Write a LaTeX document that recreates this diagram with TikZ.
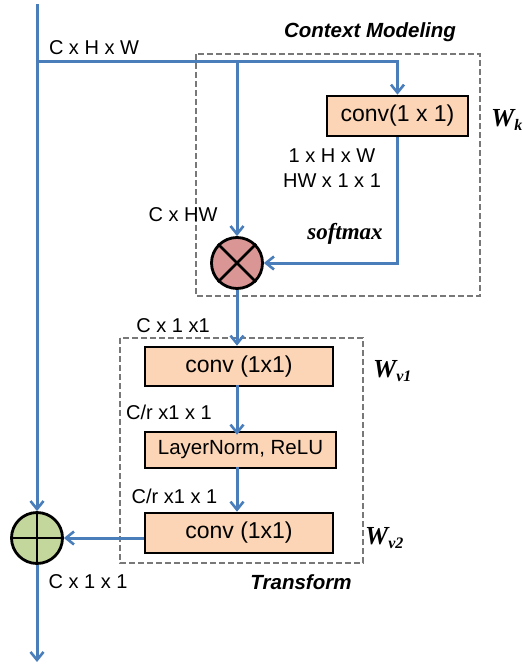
\documentclass[tikz,border=0pt]{standalone}
\usepackage{fontspec}
\setmainfont{Liberation Sans}
\newfontfamily\tnr{Liberation Serif}
\usetikzlibrary{arrows.meta}
\definecolor{lineblue}{RGB}{74,126,187}
\definecolor{peach}{RGB}{251,213,181}
\definecolor{pinkred}{RGB}{217,150,148}
\definecolor{lightgreen}{RGB}{195,214,155}
\definecolor{dashgray}{RGB}{120,120,120}
\newcommand{\Wlab}[1]{{\tnr\bfseries\itshape\fontsize{26}{28}\selectfont W\raisebox{-0.35ex}{\fontsize{16}{18}\selectfont #1}}}
\tikzset{
  conn/.style={draw=lineblue, line width=3pt, -{Straight Barb[length=8pt,width=13pt,line width=2.6pt]}},
  opbox/.style={draw=black, line width=2.6pt, fill=peach, inner sep=0pt, font=\fontsize{23}{26}\selectfont},
  dim/.style={inner sep=0pt, font=\fontsize{20}{23}\selectfont},
  grouptitle/.style={inner sep=0pt, font=\fontsize{20.5}{23}\selectfont\bfseries\itshape},
  groupbox/.style={draw=dashgray, line width=2.8pt, dash pattern=on 6pt off 3pt},
  opcircle/.style={circle, draw=black, line width=2.8pt, minimum size=51pt, inner sep=0pt}
}
\begin{document}
\begin{tikzpicture}[x=1pt,y=-1pt]
\useasboundingbox (0,0) rectangle (522,666);
% group boxes
\draw[groupbox] (196,54) rectangle (480,296);
\draw[groupbox] (120,338) rectangle (363,563);
\node[grouptitle] (ctxtitle) at (370,32) {Context Modeling};
\node[grouptitle] (trtitle) at (301,582) {Transform};
% nodes
\node[opbox, minimum width=141pt, minimum height=40pt] (convk) at (397.5,116) {conv(1 x 1)};
\node[opcircle, fill=pinkred] (mul) at (237,263) {};
\draw[line width=2.8pt] (mul.45) -- (mul.225) (mul.135) -- (mul.315);
\node[opbox, minimum width=188pt, minimum height=39pt] (conv1) at (239,366.5) {conv (1x1)};
\node[opbox, minimum width=191pt, minimum height=36pt, font=\fontsize{20.5}{23}\selectfont] (ln) at (240.5,450) {LayerNorm, ReLU};
\node[opbox, minimum width=188pt, minimum height=40pt] (conv2) at (239,533) {conv (1x1)};
\node[opcircle, fill=lightgreen] (add) at (37,538) {};
\draw[line width=2.8pt] (add.north) -- (add.south) (add.east) -- (add.west);
% coordinates
\coordinate (top) at (37,4);
\coordinate (split) at (37,62);
\coordinate (branch) at (237,62);
\coordinate (turn) at (397.5,62);
\coordinate (bottom) at (37,662);
% connectors
\draw[conn] (top) -- (add.north);
\draw[conn] (split) -- (turn) -- (convk.north);
\draw[conn] (branch) -- (mul.north);
\draw[conn] (convk.south) |- (mul.east);
\draw[conn] (mul.south) -- (mul.south |- conv1.north);
\draw[conn] ([yshift=2pt]mul.south |- conv1.south) -- ([yshift=-4pt]mul.south |- ln.north);
\draw[conn] ([yshift=2pt]mul.south |- ln.south) -- (mul.south |- conv2.north);
\draw[conn] (conv2.west |- add.east) -- (add.east);
\draw[conn] (add.south) -- (bottom);
% labels
\node[dim] (l1) at (94,48) {C x H x W};
\node[dim] (l2) at (332,156) {1 x H x W};
\node[dim] (l3) at (332,181) {HW x 1 x 1};
\node[dim] (l4) at (183,215) {C x HW};
\node[inner sep=0pt, font=\tnr\bfseries\itshape\fontsize{23}{26}\selectfont] (sm) at (345,234) {softmax};
\node[dim] (l5) at (173,326) {C x 1 x1};
\node[dim] (l6) at (169,412) {C/r x1 x 1};
\node[dim] (l7) at (174.5,496) {C/r x1 x 1};
\node[dim] (l8) at (88,582) {C x 1 x 1};
\node[inner sep=0pt, anchor=west] (wk) at (491,120) {\Wlab{k}};
\node[inner sep=0pt, anchor=west] (wv1) at (373,371) {\Wlab{v1}};
\node[inner sep=0pt, anchor=west] (wv2) at (365,538) {\Wlab{v2}};
\end{tikzpicture}
\end{document}
